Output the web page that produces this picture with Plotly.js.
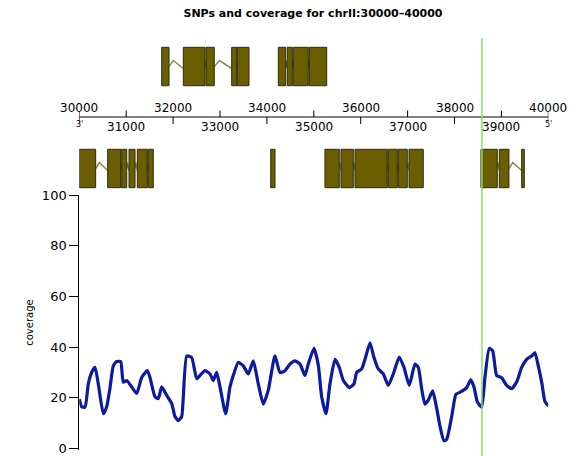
<!DOCTYPE html>
<html>
<head>
<meta charset="utf-8">
<script src="https://cdn.plot.ly/plotly-3.0.1.min.js"></script>
<style>html,body{margin:0;padding:0;background:#fff;}#chart{width:577px;height:456px;}</style>
</head>
<body>
<div id="chart"></div>
<script>
// ---------- DATA ----------
const chartTitle = "SNPs and coverage for chrII:30000\u201340000";
const regionStart = 30000;
const regionEnd = 40000;

// coverage track
const covPos = [30000,30051,30122,30192,30264,30335,30405,30512,30584,30655,30725,30797,30882,30938,31011,31117,31224,31330,31450,31507,31614,31684,31757,31863,31970,32040,32111,32183,32290,32396,32503,32573,32680,32787,32857,32929,33000,33121,33213,33283,33390,33497,33603,33710,33816,33923,34029,34172,34279,34386,34492,34599,34705,34812,34882,35004,35095,35168,35260,35345,35452,35543,35629,35756,35857,35914,36021,36112,36198,36283,36375,36481,36588,36695,36822,36923,37036,37157,37228,37300,37370,37441,37534,37620,37690,37775,37833,37940,38031,38131,38259,38345,38415,38485,38579,38650,38741,38814,38899,39006,39112,39219,39325,39432,39538,39645,39716,39786,39859,39929,40000];
const covVal = [19.5,16.5,16.3,25.5,30,32,25.5,13.7,16.5,24,32.6,34.3,34.3,26.2,26.8,24.3,21.7,28,30.7,28,20.4,19.7,24.3,21,17.8,12.6,11,12.6,36.5,35.9,27.5,28.8,30.7,29.4,26.8,30,24.3,13.7,24.3,28.8,34,32.6,29.4,34.6,25.5,17.5,23,36.5,30,30.7,33.3,34.6,33.3,28.8,33.3,39.5,33,20.4,13.7,25.5,35.2,32,26.8,24,25.5,30,31.4,36.5,41.7,35.9,31.4,29.4,24.9,29.4,36.1,32,24.9,33.3,32,23.6,17.5,19.1,22.7,15.9,8.8,3,3.6,12.6,21.4,22.3,24,27.1,24.3,18.5,16.3,28.1,39.5,38.5,28.8,27.9,24.9,23.6,26.2,32,35.2,36.5,37.8,32.6,26.2,18.5,16.8];
const covTicks = [0,20,40,60,80,100];

// SNP positions
const snpPos = [38585];

// ruler ticks
const rulerTicks = [30000,31000,32000,33000,34000,35000,36000,37000,38000,39000,40000];

// gene models (exon starts / ends), top track
const geneA_start = [31757,32218,32701,33249,33368];
const geneA_end   = [31913,32680,32878,33356,33618];
const geneB_start = [34243,34434,34562,34904];
const geneB_end   = [34400,34541,34882,35275];
// bottom track
const geneC_start = [30000,30605,30904,31060,31237,31471];
const geneC_end   = [30349,30882,31011,31188,31450,31578];
const geneD_start = [34081];
const geneD_end   = [34172];
const geneE_start = [35238,35579,35878,36588,36801,37030];
const geneE_end   = [35543,35842,36566,36780,36993,37334];
const geneF_start = [38564,38955,39432];
const geneF_end   = [38912,39161,39488];

// ---------- LAYOUT CONSTANTS ----------
const W = 577, H = 456;
const xLeftPx = 79.3, xRightPx = 548.3;
const covTopPx = 195, covZeroPx = 448.5;
const yMin = -0.6, yMax = 100;
const pxPerUnit = (covZeroPx - covTopPx) / yMax;
const covBotPx = covZeroPx - yMin * pxPerUnit;
const rowTop = [47.3, 85.7];
const rowBot = [149.3, 187.7];
const rulerY = 117;
const exonFill = '#6b5e00';
const exonLine = '#2e2a10';
const intronColor = '#8d8a48';
const fontFam = 'DejaVu Sans';

const genes = [
  {s: geneA_start, e: geneA_end, row: rowTop},
  {s: geneB_start, e: geneB_end, row: rowTop},
  {s: geneC_start, e: geneC_end, row: rowBot},
  {s: geneD_start, e: geneD_end, row: rowBot},
  {s: geneE_start, e: geneE_end, row: rowBot},
  {s: geneF_start, e: geneF_end, row: rowBot}
];

const traces = [];

// introns (hat lines)
genes.forEach(g => {
  const c = (g.row[0] + g.row[1]) / 2;
  const xs = [], ys = [];
  for (let i = 0; i < g.s.length - 1; i++) {
    const a = g.e[i], b = g.s[i + 1];
    xs.push(a, a + (b - a) * 0.3, b, null);
    ys.push(c, c - 6, c + 2, null);
  }
  if (xs.length) traces.push({x: xs, y: ys, xaxis: 'x', yaxis: 'y2', mode: 'lines',
    line: {color: intronColor, width: 1.5}, hoverinfo: 'skip'});
});

// exons
genes.forEach(g => {
  const xs = [], ys = [];
  for (let i = 0; i < g.s.length; i++) {
    xs.push(g.s[i], g.e[i], g.e[i], g.s[i], g.s[i], null);
    ys.push(g.row[0], g.row[0], g.row[1], g.row[1], g.row[0], null);
  }
  traces.push({x: xs, y: ys, xaxis: 'x', yaxis: 'y2', mode: 'lines', fill: 'toself',
    fillcolor: exonFill, line: {color: exonLine, width: 1}, hoverinfo: 'skip'});
});

// ruler line and ticks
const rx = [regionStart, regionEnd, null], ry = [rulerY, rulerY, null];
rulerTicks.forEach((t, i) => {
  if (i === 0 || i === rulerTicks.length - 1) { rx.push(t, t, null); ry.push(rulerY - 6, rulerY + 6, null); }
  else if (i % 2 === 1) { rx.push(t, t, null); ry.push(rulerY - 6.5, rulerY, null); }
  else { rx.push(t, t, null); ry.push(rulerY, rulerY + 7, null); }
});
traces.push({x: rx, y: ry, xaxis: 'x', yaxis: 'y2', mode: 'lines',
  line: {color: '#000', width: 1}, hoverinfo: 'skip'});

// coverage
traces.push({x: covPos, y: covVal, xaxis: 'x', yaxis: 'y', mode: 'lines',
  line: {color: '#0b1a9e', width: 3.2, shape: 'spline', smoothing: 0.5}, hoverinfo: 'skip'});

const annotations = [];
rulerTicks.forEach((t, i) => {
  const above = (i % 2 === 0);
  annotations.push({x: t, y: above ? rulerY - 9 : rulerY + 10, xref: 'x', yref: 'y2',
    text: String(t), showarrow: false, xanchor: 'center', yanchor: 'middle',
    font: {family: fontFam, size: 12, color: '#000'}});
});
annotations.push({x: regionStart, y: rulerY + 7, xref: 'x', yref: 'y2', text: "3'", showarrow: false,
  xanchor: 'center', yanchor: 'middle', font: {family: fontFam, size: 8, color: '#000'}});
annotations.push({x: regionEnd, y: rulerY + 7, xref: 'x', yref: 'y2', text: "5'", showarrow: false,
  xanchor: 'center', yanchor: 'middle', font: {family: fontFam, size: 8, color: '#000'}});

const shapes = snpPos.map(p => ({type: 'line', xref: 'x', yref: 'paper', x0: p, x1: p,
  y0: 0, y1: 1 - 38 / H, line: {color: '#8ade5c', width: 1.5}, layer: 'above'}));

const layout = {
  width: W, height: H,
  margin: {l: 0, r: 0, t: 0, b: 0, pad: 0},
  paper_bgcolor: '#fff', plot_bgcolor: 'rgba(0,0,0,0)',
  showlegend: false,
  title: {text: chartTitle, x: 313 / W, xanchor: 'center', y: 1 - 13.5 / H, yanchor: 'middle',
    font: {family: fontFam, size: 11, color: '#000', weight: 'bold'}},
  xaxis: {domain: [xLeftPx / W, xRightPx / W], range: [regionStart, regionEnd], visible: false,
    anchor: 'y'},
  yaxis: {domain: [1 - covBotPx / H, 1 - covTopPx / H], range: [yMin, yMax], tickvals: covTicks,
    ticks: 'outside', ticklen: 9, tickwidth: 1, tickcolor: '#000', showline: true, linecolor: '#000',
    linewidth: 1, showgrid: false, zeroline: false, anchor: 'x', ticklabeloverflow: 'allow',
    tickfont: {family: fontFam, size: 13, color: '#000'},
    title: {text: 'coverage', standoff: 6, font: {family: fontFam, size: 10, color: '#000'}}},
  yaxis2: {domain: [1 - covTopPx / H, 1], range: [covTopPx, 0], visible: false, anchor: 'x'},
  annotations: annotations,
  shapes: shapes
};

Plotly.newPlot('chart', traces, layout, {displayModeBar: false, staticPlot: true});
</script>
</body>
</html>
